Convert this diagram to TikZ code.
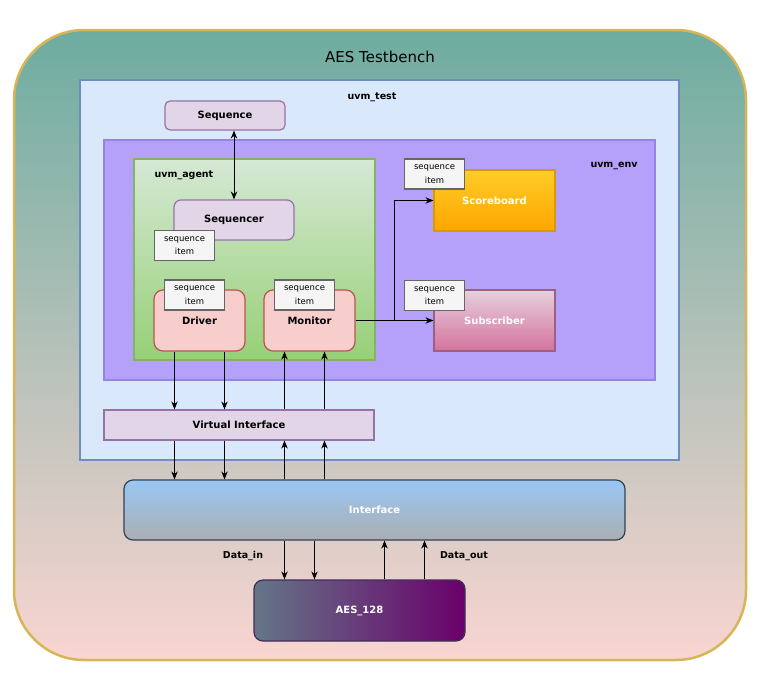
\documentclass[tikz,border=0pt]{standalone}
\usepackage{fontspec}
\setmainfont{DejaVu Sans}
\usetikzlibrary{arrows.meta}
\definecolor{benchtop}{RGB}{110,172,160}
\definecolor{benchbot}{RGB}{249,213,209}
\definecolor{benchline}{RGB}{214,182,86}
\definecolor{testfill}{RGB}{218,232,252}
\definecolor{testline}{RGB}{108,142,191}
\definecolor{envfill}{RGB}{181,161,250}
\definecolor{envline}{RGB}{150,132,228}
\definecolor{agtop}{RGB}{213,232,212}
\definecolor{agbot}{RGB}{151,208,119}
\definecolor{agline}{RGB}{130,179,102}
\definecolor{lilac}{RGB}{225,213,231}
\definecolor{lilacline}{RGB}{150,115,166}
\definecolor{rosefill}{RGB}{248,206,204}
\definecolor{roseline}{RGB}{184,84,80}
\definecolor{itemfill}{RGB}{245,245,245}
\definecolor{itemline}{RGB}{102,102,102}
\definecolor{scoretop}{RGB}{255,205,40}
\definecolor{scorebot}{RGB}{255,165,0}
\definecolor{scoreline}{RGB}{215,155,0}
\definecolor{subtop}{RGB}{230,208,222}
\definecolor{subbot}{RGB}{213,115,157}
\definecolor{subline}{RGB}{153,97,133}
\definecolor{iftop}{RGB}{153,199,245}
\definecolor{ifbot}{RGB}{170,174,178}
\definecolor{ifline}{RGB}{49,67,84}
\definecolor{aesleft}{RGB}{100,118,135}
\definecolor{aesright}{RGB}{106,0,107}
\definecolor{aesline}{RGB}{67,45,87}

\begin{document}
\begin{tikzpicture}[x=1pt, y=-1pt,
    arrow/.style={>={Stealth[length=8pt, width=6.5pt]}, line width=1pt},
    block/.style={draw, line width=1.2pt, inner sep=0pt, font=\bfseries\fontsize{10}{12}\selectfont},
    lilacbox/.style={block, fill=lilac, draw=lilacline},
    rosebox/.style={block, fill=rosefill, draw=roseline, rounded corners=9pt, minimum width=91pt, minimum height=61pt},
    seqitem/.style={draw=itemline, fill=itemfill, line width=1.6pt, minimum width=60pt, minimum height=30pt,
        inner sep=0pt, align=center, font=\fontsize{8.5}{13.5}\selectfont},
    tag/.style={font=\bfseries\fontsize{9.5}{11}\selectfont}]
    \useasboundingbox (0,0) rectangle (774,691);
    \node[draw=benchline, line width=2.5pt, rounded corners=70pt, top color=benchtop, bottom color=benchbot,
        minimum width=732pt, minimum height=630pt] (bench) at (380,345) {};
    \node[font=\fontsize{15}{17}\selectfont] (title) at (380,57) {AES Testbench};

    \node[draw=testline, fill=testfill, line width=1.2pt, minimum width=599pt, minimum height=380pt] (test) at (379.5,270) {};
    \node[tag] (testlabel) at (372,97) {uvm\_test};
    \node[lilacbox, rounded corners=5pt, minimum width=120pt, minimum height=29pt] (sequence) at (225,115.5) {Sequence};

    \node[draw=envline, fill=envfill, line width=1.2pt, minimum width=551pt, minimum height=240pt] (env) at (379.5,260) {};
    \node[tag] (envlabel) at (614,166) {uvm\_env};

    \node[draw=agline, line width=1.2pt, top color=agtop, bottom color=agbot, minimum width=241pt, minimum height=201pt] (agent) at (254.5,259.5) {};
    \node[tag] (agentlabel) at (184,175) {uvm\_agent};
    \node[lilacbox, rounded corners=7pt, minimum width=120pt, minimum height=40pt] (sequencer) at (234,220) {Sequencer};
    \node[seqitem] (itemsqr) at (184.5,245.5) {sequence\\item};
    \node[rosebox] (driver) at (199.5,320.5) {\raisebox{-6pt}{Driver}};
    \node[seqitem] (itemdrv) at (194.5,295) {sequence\\item};
    \node[rosebox] (monitor) at (309.5,320.5) {\raisebox{-6pt}{Monitor}};
    \node[seqitem] (itemmon) at (304.5,295) {sequence\\item};

    \node[block, draw=scoreline, top color=scoretop, bottom color=scorebot, text=white,
        minimum width=121pt, minimum height=61pt] (scoreboard) at (494.5,200.5) {Scoreboard};
    \node[seqitem] (itemscb) at (434.5,174) {sequence\\item};
    \node[block, draw=subline, top color=subtop, bottom color=subbot, text=white,
        minimum width=121pt, minimum height=61pt] (subscriber) at (494.5,320.5) {Subscriber};
    \node[seqitem] (itemsub) at (434.5,295.5) {sequence\\item};

    \node[lilacbox, minimum width=270pt, minimum height=30pt] (vif) at (239,425) {Virtual Interface};
    \node[block, draw=ifline, rounded corners=9pt, top color=iftop, bottom color=ifbot, text=white,
        minimum width=501pt, minimum height=60pt] (iface) at (374.5,510) {Interface};
    \node[block, draw=aesline, rounded corners=9pt, left color=aesleft, right color=aesright, text=white,
        minimum width=211pt, minimum height=61pt] (aes) at (359.5,610.5) {AES\_128};
    \node[tag] (datain) at (243,556) {Data\_in};
    \node[tag] (dataout) at (464,556) {Data\_out};

    \draw[<->, arrow] (sequencer.north |- sequence.south) -- (sequencer.north);
    \path (monitor.east) -- (subscriber.west) coordinate[midway] (split);
    \draw[->, arrow] (monitor.east) -- (subscriber.west);
    \draw[->, arrow] (split) |- (scoreboard.west);
    \foreach \s in {-25,25} {
        \draw[->, arrow] ([xshift=\s pt]driver.south) -- ([xshift=\s pt]driver.south |- vif.north);
        \draw[->, arrow] ([xshift=\s pt]driver.south |- vif.south) -- ([xshift=\s pt]driver.south |- iface.north);
    }
    \foreach \s in {-25,15} {
        \draw[->, arrow] ([xshift=\s pt]monitor.south |- vif.north) -- ([xshift=\s pt]monitor.south);
        \draw[->, arrow] ([xshift=\s pt]monitor.south |- iface.north) -- ([xshift=\s pt]monitor.south |- vif.south);
    }
    \foreach \s in {-75,-45}
        \draw[->, arrow] ([xshift=\s pt]aes.north |- iface.south) -- ([xshift=\s pt]aes.north);
    \foreach \s in {25,65}
        \draw[->, arrow] ([xshift=\s pt]aes.north) -- ([xshift=\s pt]aes.north |- iface.south);
\end{tikzpicture}
\end{document}
